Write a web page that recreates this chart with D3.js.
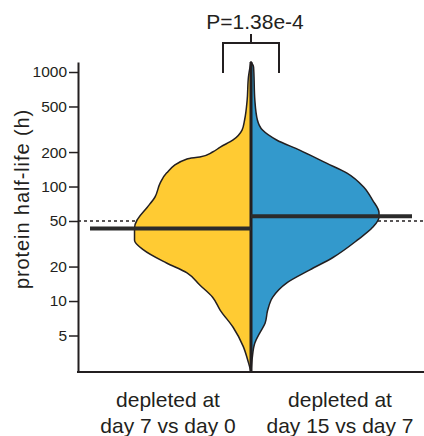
<!DOCTYPE html>
<html>
<head>
<meta charset="utf-8">
<script src="https://cdn.jsdelivr.net/npm/d3@7"></script>
<style>
  body { margin: 0; background: #fff; }
  text { font-family: "Liberation Sans", Arial, sans-serif; fill: #231f20; }
</style>
</head>
<body>
<svg id="chart" width="424" height="436"></svg>
<script>
// dane
const groups = ["day7vs0", "day15vs7"];
const labelLines = [["depleted at", "day 7 vs day 0"], ["depleted at", "day 15 vs day 7"]];
const colors = ["#ffcb33", "#3399cc"];

// lewa połowa (żółta): okres półtrwania (h) i gęstość
const leftHalfLife = [1223, 904, 569, 381, 311, 255, 221, 200, 181, 174, 131, 107, 81, 66, 53, 51, 43, 34, 28, 21.5, 17.6, 13.8, 10.8, 8.3, 5.9, 4.0, 2.9, 2.4];
const leftDensity  = [0, 0.02, 0.03, 0.05, 0.07, 0.14, 0.24, 0.30, 0.40, 0.50, 0.66, 0.71, 0.75, 0.81, 0.88, 0.89, 0.91, 0.91, 0.84, 0.66, 0.50, 0.40, 0.30, 0.24, 0.14, 0.06, 0.02, 0];

// prawa połowa (niebieska)
const rightHalfLife = [1223, 1106, 569, 381, 311, 255, 208, 160, 131, 99, 76, 59, 54, 44, 34, 24, 18.7, 14.4, 10.8, 8.3, 6.4, 5.3, 4.3, 3.2, 2.4];
const rightDensity  = [0, 0.02, 0.03, 0.05, 0.09, 0.20, 0.38, 0.59, 0.75, 0.88, 0.95, 1, 1, 0.95, 0.83, 0.64, 0.46, 0.28, 0.17, 0.13, 0.11, 0.07, 0.03, 0.01, 0];

const medians = [43, 55];
const refLine = 50;
const yTicks = [5, 10, 20, 50, 100, 200, 500, 1000];
const pLabel = "P=1.38e-4";

const svg = d3.select("#chart");
const X0 = 78, X1 = 424, YTOP = 62, YBOT = 372;

const y = d3.scaleLog().domain([2.4, 1223]).range([YBOT, YTOP]);
const xBand = d3.scaleBand().domain(groups).range([82, 426]);
const cx = (X0 + X1) / 2;
const w = d3.scaleLinear().domain([0, 1]).range([0, 128]);

// linia przerywana na 50 h (pod skrzypcami)
svg.append("line")
  .attr("x1", X0).attr("x2", X1)
  .attr("y1", y(refLine)).attr("y2", y(refLine))
  .attr("stroke", "#231f20").attr("stroke-width", 1.5)
  .attr("stroke-dasharray", "3,3");

function half(hl, dens, sign, color) {
  const pts = hl.map((v, i) => ({ v: v, d: dens[i] }));
  const area = d3.area()
    .y(d => y(d.v))
    .x0(cx)
    .x1(d => cx + sign * w(d.d))
    .curve(d3.curveMonotoneY);
  svg.append("path")
    .attr("d", area(pts))
    .attr("fill", color)
    .attr("stroke", "#231f20")
    .attr("stroke-width", 1.5)
    .attr("stroke-linejoin", "round");
}
half(leftHalfLife, leftDensity, -1, colors[0]);
half(rightHalfLife, rightDensity, 1, colors[1]);

// linia środkowa
svg.append("line")
  .attr("x1", cx).attr("x2", cx)
  .attr("y1", y(1223)).attr("y2", y(2.4))
  .attr("stroke", "#231f20").attr("stroke-width", 3);

// mediany
const medLen = 161;
svg.append("line")
  .attr("x1", cx - medLen).attr("x2", cx)
  .attr("y1", y(medians[0])).attr("y2", y(medians[0]))
  .attr("stroke", "#2b2b2b").attr("stroke-width", 4);
svg.append("line")
  .attr("x1", cx).attr("x2", cx + medLen)
  .attr("y1", y(medians[1])).attr("y2", y(medians[1]))
  .attr("stroke", "#2b2b2b").attr("stroke-width", 4);

// oś Y
const yAxis = svg.append("g")
  .attr("transform", `translate(${X0},0)`)
  .call(d3.axisLeft(y).tickValues(yTicks).tickFormat(d3.format("d")).tickSize(9).tickSizeOuter(0).tickPadding(2));
yAxis.select(".domain").attr("stroke", "#231f20").attr("stroke-width", 2);
yAxis.selectAll(".tick line").attr("stroke", "#231f20").attr("stroke-width", 1.5);
yAxis.selectAll(".tick text").style("font-size", "15.5px").attr("fill", "#231f20");

// oś X
svg.append("line")
  .attr("x1", X0 - 1).attr("x2", X1)
  .attr("y1", YBOT).attr("y2", YBOT)
  .attr("stroke", "#231f20").attr("stroke-width", 2);

// tytuł osi Y
svg.append("text")
  .attr("transform", `translate(29,${(104 + 294) / 2}) rotate(-90)`)
  .attr("text-anchor", "middle")
  .style("font-size", "20px")
  .style("letter-spacing", "0.9px")
  .text("protein half-life (h)");

// etykiety kategorii
groups.forEach((g, i) => {
  const t = svg.append("text")
    .attr("text-anchor", "middle")
    .style("font-size", "21px");
  labelLines[i].forEach((ln, j) => {
    t.append("tspan")
      .attr("x", xBand(g) + xBand.bandwidth() / 2)
      .attr("y", 407 + j * 26)
      .text(ln);
  });
});

// nawias istotności
const br = d3.path();
br.moveTo(cx - 28, 73); br.lineTo(cx - 28, 43); br.lineTo(cx + 28, 43); br.lineTo(cx + 28, 73);
br.moveTo(cx, 43); br.lineTo(cx, 34);
svg.append("path").attr("d", br.toString())
  .attr("fill", "none").attr("stroke", "#231f20").attr("stroke-width", 2);
svg.append("text")
  .attr("x", cx + 4).attr("y", 29)
  .attr("text-anchor", "middle")
  .style("font-size", "21px")
  .text(pLabel);
</script>
</body>
</html>
